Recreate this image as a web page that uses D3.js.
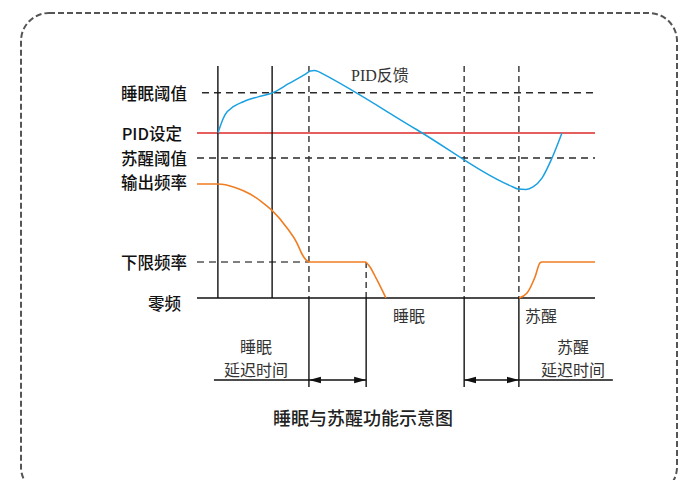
<!DOCTYPE html>
<html>
<head>
<meta charset="utf-8">
<script src="https://cdn.jsdelivr.net/npm/d3@7.9.0/dist/d3.min.js"></script>
<style>
  body { margin: 0; background: #fff; }
  svg { display: block; }
  text { font-family: "Noto Sans CJK SC", "Noto Sans", sans-serif; }
  .serif { font-family: "Liberation Serif", "Noto Sans CJK SC", serif; }
</style>
</head>
<body>
<svg id="chart" width="686" height="480"></svg>
<script>
// levels on the left side
const levelNames = ['睡眠阈值', 'PID设定', '苏醒阈值', '输出频率', '下限频率', '零频'];
const levelValues = [90, 72.4, 61.4, 50, 15.8, 0];

// vertical event markers (time)
const eventTimes = [2.1, 7.55, 11.25, 17, 26.85, 32.35];
const eventKinds = ['solid', 'solid', 'dashed', 'lower', 'dashed', 'dashed'];

// PID feedback curve
const pidT = [2.11, 2.38, 2.81, 3.65, 4.66, 6.13, 7.54, 9.25, 10.9, 11.4, 11.8, 12.2, 12.6, 22.1, 31.76, 32.26, 33.07, 33.77, 34.67, 35.68, 36.68];
const pidV = [72.4, 75.9, 80.3, 83.9, 86.1, 88.2, 89.9, 94.1, 98.2, 99.6, 99.8, 99.3, 98.4, 73.8, 48.7, 47.8, 47.6, 48.7, 52.6, 61.4, 72.4];

// output frequency: ramp down to lower limit, hold, stop, wake up
const outDownT = [0, 2.11, 3.82, 5.33, 6.53, 7.54, 9.05, 10.05, 10.55, 10.95, 11.26, 16.98];
const outDownV = [50, 50, 48.5, 45.6, 42.1, 38.4, 30.7, 24.1, 19.3, 16.7, 15.8, 15.8];
const outStopT = [16.98, 17.39, 18.09, 18.99];
const outStopV = [15.8, 13.6, 7.9, 0];
const outWakeT = [32.36, 33.17, 33.97, 34.47, 34.67, 40];
const outWakeV = [0, 2.2, 9.2, 15.4, 15.8, 15.8];

const title = '睡眠与苏醒功能示意图';

const svg = d3.select('#chart');

const x = d3.scaleLinear().domain([0, 40]).range([197, 595]);
const y = d3.scaleLinear().domain([0, 100]).range([298, 70]);

const yTop = 66, yBottom = 387, yArrow = 380;

// dashed frame
svg.append('rect')
  .attr('x', 21).attr('y', 13)
  .attr('width', 656).attr('height', 482)
  .attr('rx', 28)
  .attr('fill', 'none')
  .attr('stroke', '#555')
  .attr('stroke-width', 2)
  .attr('stroke-dasharray', '6,3');

const defs = svg.append('defs');
defs.append('marker')
  .attr('id', 'arrow')
  .attr('viewBox', '0 0 12 8')
  .attr('refX', 12).attr('refY', 4)
  .attr('markerWidth', 12).attr('markerHeight', 8)
  .attr('markerUnits', 'userSpaceOnUse')
  .attr('orient', 'auto-start-reverse')
  .append('path')
  .attr('d', 'M0,0.8L12,4L0,7.2Z')
  .attr('fill', '#111');

function hline(v, t0, t1, color, dash) {
  svg.append('line')
    .attr('x1', x(t0)).attr('x2', x(t1))
    .attr('y1', y(v)).attr('y2', y(v))
    .attr('stroke', color)
    .attr('stroke-width', 1.5)
    .attr('stroke-dasharray', dash || null);
}

// horizontal reference lines
hline(levelValues[0], 0.5, 40, '#2a2a2a', '7,5');
hline(levelValues[1], 0, 40, '#de2a2a');
hline(levelValues[2], 0, 40, '#2a2a2a', '7,5');
hline(levelValues[4], 0, eventTimes[2], '#555', '7,5');

// vertical event lines
eventTimes.forEach((t, i) => {
  const kind = eventKinds[i];
  const g = svg.append('g').attr('stroke', '#111').attr('stroke-width', 1.4);
  if (kind === 'solid') {
    g.append('line').attr('x1', x(t)).attr('x2', x(t)).attr('y1', yTop).attr('y2', y(0));
  } else {
    const top = kind === 'lower' ? y(levelValues[4]) : yTop;
    g.append('line').attr('x1', x(t)).attr('x2', x(t)).attr('y1', top).attr('y2', y(0))
      .attr('stroke', '#333').attr('stroke-dasharray', '6,4');
    g.append('line').attr('x1', x(t)).attr('x2', x(t)).attr('y1', y(0)).attr('y2', yBottom);
  }
});

// zero line
hline(0, 0, 40, '#111');

// curves
const line = d3.line().x(d => x(d[0])).y(d => y(d[1])).curve(d3.curveMonotoneX);

svg.append('path')
  .attr('d', line(d3.zip(pidT, pidV)))
  .attr('fill', 'none').attr('stroke', '#1ba1e2').attr('stroke-width', 1.5);

[[outDownT, outDownV], [outStopT, outStopV], [outWakeT, outWakeV]].forEach(([ts, vs]) => {
  svg.append('path')
    .attr('d', line(d3.zip(ts, vs)))
    .attr('fill', 'none').attr('stroke', '#f07d22').attr('stroke-width', 1.6);
});

// delay arrows
function delayArrow(t0, t1, extFrom, extTo) {
  svg.append('line')
    .attr('x1', extFrom).attr('x2', extTo).attr('y1', yArrow).attr('y2', yArrow)
    .attr('stroke', '#111').attr('stroke-width', 1.4);
  svg.append('line')
    .attr('x1', x(t0)).attr('x2', x(t1)).attr('y1', yArrow).attr('y2', yArrow)
    .attr('stroke', '#111').attr('stroke-width', 1.4)
    .attr('marker-start', 'url(#arrow)')
    .attr('marker-end', 'url(#arrow)');
}
delayArrow(eventTimes[2], eventTimes[3], x(eventTimes[2]) - 95, x(eventTimes[2]));
delayArrow(eventTimes[4], eventTimes[5], x(eventTimes[5]), x(eventTimes[5]) + 94);

// level labels
const labelEnd = { 'PID设定': 182, '零频': 181 };
const labelDy = { '输出频率': -2, '零频': 5 };
levelNames.forEach((name, i) => {
  svg.append('text')
    .attr('x', labelEnd[name] || 187)
    .attr('y', y(levelValues[i]) + (labelDy[name] || 0))
    .attr('text-anchor', 'end')
    .attr('dominant-baseline', 'central')
    .attr('font-size', 16.5)
    .attr('font-weight', 500)
    .attr('fill', '#111')
    .text(name);
});

// annotations
function note(txt, px, py, anchor, cls) {
  svg.append('text')
    .attr('class', cls || null)
    .attr('x', px).attr('y', py)
    .attr('text-anchor', anchor)
    .attr('dominant-baseline', 'central')
    .attr('font-size', 16)
    .attr('fill', '#333')
    .text(txt);
}
note('PID反馈', 351, 75, 'start', 'serif');
note('睡眠', x(outStopT[outStopT.length - 1]) + 7, 315, 'start');
note('苏醒', x(eventTimes[5]) + 6, 315, 'start');
note('睡眠', 256, 346, 'middle');
note('延迟时间', 256, 369, 'middle');
note('苏醒', 573, 346, 'middle');
note('延迟时间', 573, 369, 'middle');

svg.append('text')
  .attr('x', 363).attr('y', 417)
  .attr('text-anchor', 'middle')
  .attr('dominant-baseline', 'central')
  .attr('font-size', 18)
  .attr('font-weight', 500)
  .attr('fill', '#222')
  .text(title);
</script>
</body>
</html>
